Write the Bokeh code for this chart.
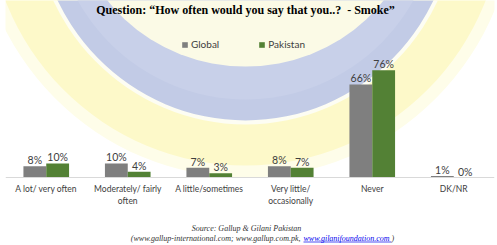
from bokeh.plotting import figure
from bokeh.models import (ColumnDataSource, FactorRange, Range1d, Legend, LegendItem,
                          Label)
from bokeh.transform import dodge
from bokeh.embed import file_html
from bokeh.resources import INLINE
from bokeh.core.properties import value

# ---------------- data ----------------
categories = ["A lot/ very often", "Moderately/ fairly\noften", "A little/sometimes",
              "Very little/\noccasionally", "Never", "DK/NR"]
global_vals = [8, 10, 7, 8, 66, 1]
pakistan_vals = [10, 4, 3, 7, 76, 0]
series_names = ["Global", "Pakistan"]
title_text = "Question: \u201cHow often would you say that you..?\u00a0 - Smoke\u201d"
source_line1 = "Source: Gallup & Gilani Pakistan"
source_line2a = "(www.gallup-international.com; www.gallup.com.pk, "
source_line2b = "www.gilanifoundation.com"
source_line2c = ")"

# ---------------- geometry (pixels -> data) ----------------
W, H = 497, 245
LEFT, RIGHT = 5, 3
Y0 = 177.0          # pixel row of the baseline
PPU = 1.41          # pixels per percentage point
XW = (W - LEFT - RIGHT) / len(categories)


def xd(px):
    return (px - LEFT) / XW


def yd(py):
    return (Y0 - py) / PPU


src = ColumnDataSource(dict(
    cat=categories,
    g=global_vals,
    p=pakistan_vals,
    gl=[f"{v}%" for v in global_vals],
    pl=[f"{v}%" for v in pakistan_vals],
))

p = figure(width=W, height=H, x_range=FactorRange(*categories),
           y_range=Range1d(-(H - Y0) / PPU, Y0 / PPU),
           output_backend="svg", toolbar_location=None,
           min_border_left=LEFT, min_border_right=RIGHT,
           min_border_top=0, min_border_bottom=0)
p.outline_line_color = None
p.grid.visible = False
p.yaxis.visible = False
p.background_fill_color = "white"

# ---------------- watermark (decorative rings) ----------------
cx, cy = xd(245), yd(-95)
rings = [
    (540, 544, "#fefde9"),
    (516, 520, "#fdf9c9"),
    (427, 438, "#fdfdf3"),
    (419, 430, "#c2cbe6"),
    (385, 388, "#c8d0e9"),
    (342, 322, "#fbfae6"),
]
for w_, h_, col in rings:
    p.ellipse(x=[cx], y=[cy], width=w_, height=h_, width_units="screen",
              height_units="screen", fill_color=col, line_color=None)

# ---------------- bars ----------------
BW = 0.28
r_g = p.vbar(x=dodge("cat", -0.14, range=p.x_range), top="g", width=BW, source=src,
             fill_color="#7f7f7f", line_color=None)
r_p = p.vbar(x=dodge("cat", 0.14, range=p.x_range), top="p", width=BW, source=src,
             fill_color="#538135", line_color=None)

for off, col in [(-0.14, "gl"), (0.14, "pl")]:
    p.text(x=dodge("cat", off, range=p.x_range), y=col[0], text=col, source=src,
           text_align="center", text_baseline="alphabetic", y_offset=-6,
           text_font=value("Lato"), text_font_size="10.5px", text_color="#404040")

# ---------------- axis ----------------
ax = p.xaxis[0]
ax.fixed_location = 0
ax.axis_line_color = "#d9d9d9"
ax.major_tick_line_color = None
ax.minor_tick_line_color = None
ax.major_tick_out = 0
ax.major_tick_in = 0
ax.major_label_standoff = 6
ax.major_label_text_font = "Lato"
ax.major_label_text_font_size = "8.5px"
ax.major_label_text_color = "#404040"

# ---------------- legend ----------------
legend = Legend(items=[LegendItem(label=series_names[0], renderers=[r_g]),
                       LegendItem(label=series_names[1], renderers=[r_p])],
                orientation="horizontal", location=(181 - LEFT, H - 50),
                glyph_width=7, glyph_height=7, label_standoff=3, spacing=39,
                label_height=10, padding=0, margin=0,
                label_text_font="Lato", label_text_font_size="10px",
                label_text_color="#404040",
                background_fill_alpha=0, border_line_alpha=0)
p.add_layout(legend, "center")

# ---------------- texts ----------------
p.add_layout(Label(x=xd(245), y=yd(9), text=title_text, text_align="center",
                   text_baseline="middle", text_font="Liberation Serif",
                   text_font_style="bold", text_font_size="12px", text_color="black"))
p.add_layout(Label(x=xd(246), y=yd(228), text=source_line1, text_align="center",
                   text_baseline="middle", text_font="Liberation Serif",
                   text_font_style="italic", text_font_size="8px", text_color="#333333"))
p.add_layout(Label(x=xd(302), y=yd(238), text=source_line2a, text_align="right",
                   text_baseline="middle", text_font="Liberation Serif",
                   text_font_style="italic", text_font_size="8px", text_color="#333333"))
p.add_layout(Label(x=xd(303), y=yd(238), text=source_line2b, text_align="left",
                   text_baseline="middle", text_font="Liberation Serif",
                   text_font_style="italic", text_font_size="8px", text_color="#0000ee"))
p.add_layout(Label(x=xd(391), y=yd(238), text=source_line2c, text_align="left",
                   text_baseline="middle", text_font="Liberation Serif",
                   text_font_style="italic", text_font_size="8px", text_color="#333333"))
p.segment(x0=[xd(303)], y0=[yd(241.5)], x1=[xd(391)], y1=[yd(241.5)],
          line_color="#0000ee", line_width=0.7)

open("out.html", "w").write(file_html(p, INLINE))
